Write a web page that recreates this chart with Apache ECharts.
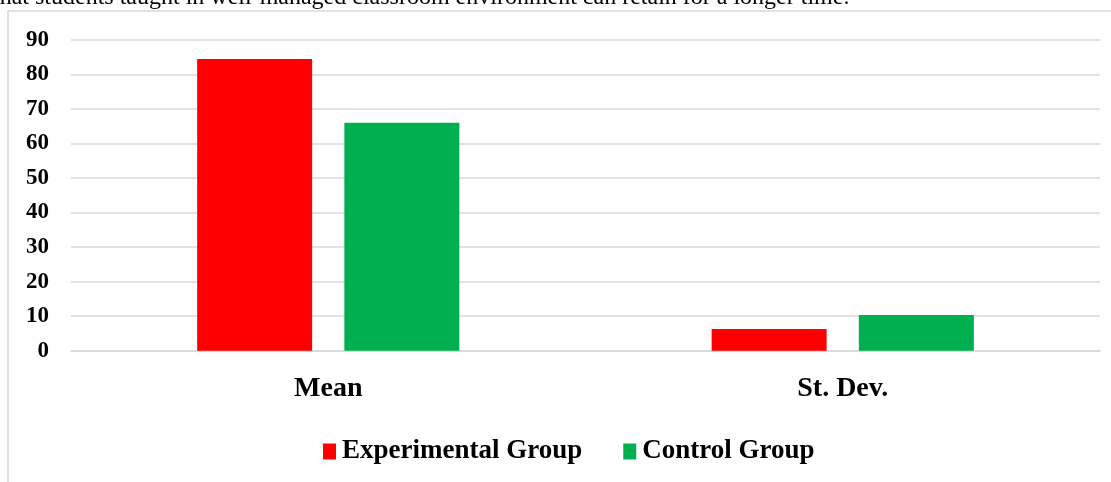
<!DOCTYPE html>
<html>
<head>
<meta charset="utf-8">
<script src="https://cdn.jsdelivr.net/npm/echarts@6/dist/echarts.min.js"></script>
<style>
html,body{margin:0;padding:0;background:#fff;}
#chart{width:1111px;height:482px;}
</style>
</head>
<body>
<div id="chart"></div>
<script>
var categories = ['Mean', 'St. Dev.'];
var experimentalGroup = [84.4, 6.3];
var controlGroup = [66, 10.3];
var yTicks = { min: 0, max: 90, interval: 10 };
var seriesNames = ['Experimental Group', 'Control Group'];
var captionText = 'that students taught in well-managed classroom environment can retain for a longer time.';

var serif = '"Liberation Serif", "Times New Roman", serif';
var chart = echarts.init(document.getElementById('chart'), null, { renderer: 'canvas' });
chart.setOption({
  animation: false,
  backgroundColor: '#fff',
  graphic: [
    {
      type: 'rect', silent: true, z: -1,
      shape: { x: 8, y: 11, width: 1200, height: 600 },
      style: { fill: 'none', stroke: '#d9d9d9', lineWidth: 1.5 }
    },
    {
      type: 'text', silent: true,
      style: {
        x: -7, y: -2, text: captionText,
        font: '24px ' + serif, fill: '#000',
        align: 'left', verticalAlign: 'middle'
      }
    }
  ],
  grid: { left: 71, right: 11, top: 39.7, bottom: 131.3, containLabel: false },
  legend: {
    data: seriesNames,
    left: 318, top: 433,
    icon: 'rect', itemWidth: 13, itemHeight: 16, itemGap: 41,
    textStyle: { fontFamily: serif, fontWeight: 'bold', fontSize: 27, color: '#000', padding: [0, 0, 0, 1] }
  },
  xAxis: {
    type: 'category', data: categories,
    axisLine: { lineStyle: { color: '#d9d9d9', width: 1.5 } },
    axisTick: { show: false },
    axisLabel: { fontFamily: serif, fontWeight: 'bold', fontSize: 28, color: '#000', margin: 24 }
  },
  yAxis: {
    type: 'value', min: yTicks.min, max: yTicks.max, interval: yTicks.interval,
    axisLine: { show: false }, axisTick: { show: false },
    splitLine: { lineStyle: { color: '#d9d9d9', width: 1.5 } },
    axisLabel: { fontFamily: serif, fontWeight: 'bold', fontSize: 23, color: '#000', margin: 22 }
  },
  series: [
    { name: seriesNames[0], type: 'bar', data: experimentalGroup, barWidth: 115, barGap: '28%', itemStyle: { color: '#FF0000' } },
    { name: seriesNames[1], type: 'bar', data: controlGroup, barWidth: 115, itemStyle: { color: '#00B050' } }
  ]
});
</script>
</body>
</html>
